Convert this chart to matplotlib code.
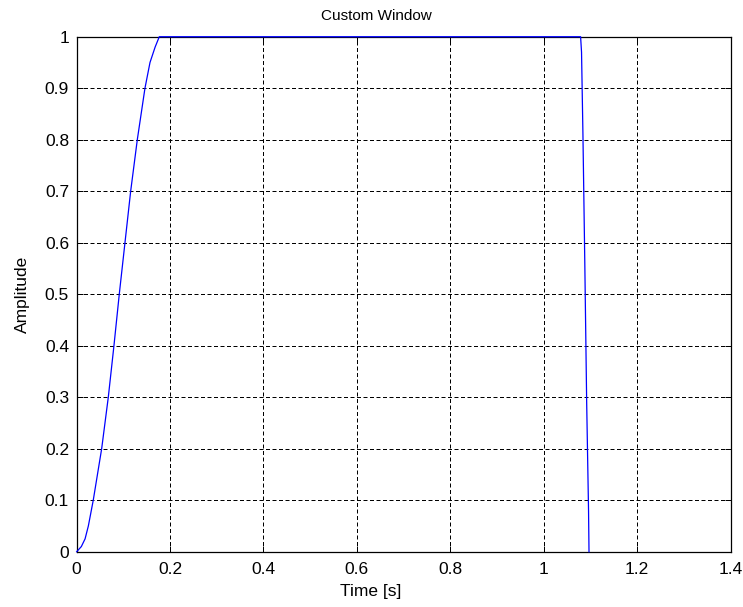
import numpy as np
import matplotlib
matplotlib.use('Agg')
import matplotlib.pyplot as plt

plt.rcParams['font.family'] = ['Liberation Sans', 'DejaVu Sans']

# Window samples: rising taper, flat top, sharp falling edge
t_rise = [0.0, 0.01, 0.018, 0.025, 0.0355, 0.0535, 0.0677, 0.0798,
          0.0912, 0.1034, 0.1156, 0.1298, 0.1462, 0.157, 0.168, 0.1769]
amp_rise = [0.0, 0.01, 0.025, 0.05, 0.1, 0.2, 0.3, 0.4,
            0.5, 0.6, 0.7, 0.8, 0.9, 0.95, 0.98, 1.0]
t_fall = [1.079, 1.081, 1.084, 1.088, 1.092, 1.096, 1.097]
amp_fall = [1.0, 0.97, 0.81, 0.56, 0.29, 0.08, 0.0]

time = np.array(t_rise + t_fall)
amplitude = np.array(amp_rise + amp_fall)

fig = plt.figure(figsize=(7.43, 6.07), dpi=100)
ax = fig.add_axes([0.1032, 0.0911, 0.8800, 0.8484])

ax.plot(time, amplitude, color='#0000ff', linewidth=0.9,
        clip_on=False, zorder=3)

ax.set_xlim(0, 1.4)
ax.set_ylim(0, 1)
ax.set_xticks(np.arange(0, 1.41, 0.2))
ax.set_yticks(np.arange(0, 1.01, 0.1))
ax.set_xticklabels(['0', '0.2', '0.4', '0.6', '0.8', '1', '1.2', '1.4'])
ax.set_yticklabels(['0', '0.1', '0.2', '0.3', '0.4', '0.5', '0.6',
                    '0.7', '0.8', '0.9', '1'])

ax.grid(True, color='black', linestyle=(0, (4, 2.5)), linewidth=0.72)
ax.set_axisbelow(True)
ax.tick_params(direction='in', top=True, right=True, length=4,
               width=0.72, labelsize=12.5)
ax.tick_params(axis='x', pad=7.5)
ax.tick_params(axis='y', pad=5.5)
for sp in ax.spines.values():
    sp.set_linewidth(0.9)
    sp.set_color('black')

ax.set_title('Custom Window', fontsize=11, pad=12, x=0.458)
ax.set_xlabel('Time [s]', fontsize=12.5)
ax.xaxis.set_label_coords(0.449, -0.063)
ax.set_ylabel('Amplitude', fontsize=12.5, labelpad=11)

fig.savefig('out.png', dpi=100)
